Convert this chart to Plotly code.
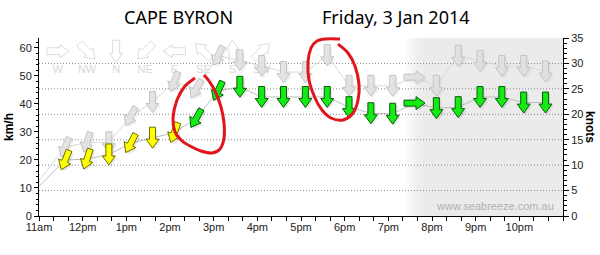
import math
import plotly.graph_objects as go

# ---------------- data ----------------
# time of each reading, decimal hours (first point is before the visible range)
times = [10.6, 11.6, 12.1, 12.6, 13.1, 13.6, 14.1, 14.6, 15.1, 15.6, 16.1, 16.6, 17.1,
         17.6, 18.1, 18.6, 19.1, 19.6, 20.1, 20.6, 21.1, 21.6, 22.1, 22.6]
# average wind speed (knots)
wind_kn = [2.4, 11.0, 11.2, 12.1, 14.3, 15.4, 16.4, 19.2, 24.6, 25.4, 23.4, 23.4, 23.4,
           23.4, 21.4, 20.2, 20.1, 22.2, 21.2, 21.4, 23.4, 23.4, 22.3, 22.3]
# gust speed (knots)
gust_kn = [2.6, 13.5, 14.5, 14.5, 19.6, 22.4, 26.4, 25.0, 31.5, 30.6, 29.5, 28.3, 28.3,
           31.6, 25.6, 25.6, 25.6, 27.3, 25.6, 31.5, 30.5, 29.5, 29.5, 28.4]
# direction the arrow points to (compass degrees), None = no arrow
arrow_dir = [None, 202, 198, 180, 208, 180, 200, 210, 205, 180, 180, 180, 180,
             180, 180, 180, 180, 90, 180, 180, 180, 180, 180, 180]

hour_ticks = [11, 12, 13, 14, 15, 16, 17, 18, 19, 20, 21, 22]
hour_labels = ["11am", "12pm", "1pm", "2pm", "3pm", "4pm", "5pm", "6pm", "7pm", "8pm", "9pm", "10pm"]
kmh_ticks = [0, 10, 20, 30, 40, 50, 60]
knot_ticks = [0, 5, 10, 15, 20, 25, 30, 35]
grid_knots = [5, 10, 15, 20, 25, 30]

compass_labels = ["W", "NW", "N", "NE", "E", "SE", "S", "SW"]
compass_dirs = [90, 135, 180, 225, 270, 315, 0, 45]

night_start = 19.8
yellow_below = 18  # knots: slower winds drawn yellow

title_left = "CAPE BYRON"
title_right = "Friday, 3 Jan 2014"
watermark = "www.seabreeze.com.au"

# hand-drawn red circles (page pixel positions of the pen strokes)
pen_stroke_1 = [(195, 78), (185, 86), (177, 100), (173, 118), (175, 132), (181, 140), (190, 146),
                (201, 151), (212, 153), (220, 149), (224, 138), (224, 123), (221, 107),
                (215, 91), (209, 81), (204, 75)]
pen_stroke_2 = [(340, 39), (326, 39), (317, 41), (311, 48), (308, 62), (309, 80), (315, 98),
                (322, 110), (331, 118), (343, 120), (353, 113), (358, 100), (359, 84),
                (355, 66), (348, 53), (338, 44)]

# ---------------- geometry ----------------
X0, X1 = 11, 23
Y2MAX = 35
KMH_MAX = 63.5
ML, MR, MT, MB = 39, 37, 38, 39
W, H = 600, 255
PW, PH = W - ML - MR, H - MT - MB
PX_X = PW / (X1 - X0)
PX_Y = PH / Y2MAX


def arrow_poly(xc, yc, deg, L=21, HL=9, hw=6.5, sw=3.0, dx=0.0, dy=0.0):
    ux, uy = math.sin(math.radians(deg)), math.cos(math.radians(deg))
    vx, vy = -uy, ux
    loc = [(-L / 2, -sw), (L / 2 - HL, -sw), (L / 2 - HL, -hw), (L / 2, 0),
           (L / 2 - HL, hw), (L / 2 - HL, sw), (-L / 2, sw), (-L / 2, -sw)]
    xs, ys = [], []
    for a, b in loc:
        px = a * ux + b * vx + dx
        py = a * uy + b * vy + dy
        xs.append(xc + px / PX_X)
        ys.append(yc + py / PX_Y)
    return xs, ys


def polys(xs_c, ys_c, dirs, **kw):
    X, Y = [], []
    for x, y, d in zip(xs_c, ys_c, dirs):
        if d is None:
            continue
        a, b = arrow_poly(x, y, d, **kw)
        X += a + [None]
        Y += b + [None]
    return X, Y


def smooth_path(pts):
    # Catmull-Rom through pixel points, expressed in paper coords
    P = [((x - ML) / PW, (H - MB - y) / PH) for x, y in pts]
    d = "M %.5f,%.5f" % P[0]
    for i in range(len(P) - 1):
        p0 = P[i - 1] if i > 0 else P[i]
        p1, p2 = P[i], P[i + 1]
        p3 = P[i + 2] if i + 2 < len(P) else P[i + 1]
        c1 = (p1[0] + (p2[0] - p0[0]) / 6, p1[1] + (p2[1] - p0[1]) / 6)
        c2 = (p2[0] - (p3[0] - p1[0]) / 6, p2[1] - (p3[1] - p1[1]) / 6)
        d += " C %.5f,%.5f %.5f,%.5f %.5f,%.5f" % (c1 + c2 + p2)
    return d


fig = go.Figure()

# empty trace so the km/h axis (left) is drawn
fig.add_trace(go.Scatter(x=[], y=[], yaxis="y2", mode="lines", hoverinfo="skip"))

# compass legend
leg_x = [11.435 + 0.666 * i for i in range(len(compass_labels))]
leg_y = [32.4] * len(compass_labels)
lx, ly = polys(leg_x, leg_y, compass_dirs, L=22, HL=9, hw=6.5, sw=3.5)
fig.add_trace(go.Scatter(x=lx, y=ly, mode="lines", fill="toself",
                         fillcolor="rgba(255,255,255,0.6)",
                         line=dict(color="#dcdcdc", width=1), hoverinfo="skip"))
fig.add_trace(go.Scatter(x=leg_x, y=[28.7] * len(compass_labels), mode="text",
                         text=compass_labels,
                         textfont=dict(family="Liberation Sans, Arial", size=11, color="#d8d8d8"),
                         hoverinfo="skip"))

# gust line and arrows
fig.add_trace(go.Scatter(x=times, y=gust_kn, mode="lines",
                         line=dict(color="#dadada", width=1), hoverinfo="skip"))
sx, sy = polys(times, gust_kn, arrow_dir, dx=2, dy=-2)
fig.add_trace(go.Scatter(x=sx, y=sy, mode="lines", fill="toself",
                         fillcolor="rgba(0,0,0,0.05)", line=dict(width=0), hoverinfo="skip"))
gx, gy = polys(times, gust_kn, arrow_dir)
fig.add_trace(go.Scatter(x=gx, y=gy, mode="lines", fill="toself",
                         fillcolor="rgba(225,225,225,0.85)",
                         line=dict(color="#c4c4c4", width=1), hoverinfo="skip"))

# wind line and arrows
fig.add_trace(go.Scatter(x=times, y=wind_kn, mode="lines",
                         line=dict(color="#bcbcbc", width=1), hoverinfo="skip"))
sx, sy = polys(times, wind_kn, arrow_dir, dx=2, dy=-2)
fig.add_trace(go.Scatter(x=sx, y=sy, mode="lines", fill="toself",
                         fillcolor="rgba(0,0,0,0.08)", line=dict(width=0), hoverinfo="skip"))
ydirs = [d if (d is not None and w < yellow_below) else None for d, w in zip(arrow_dir, wind_kn)]
gdirs = [d if (d is not None and w >= yellow_below) else None for d, w in zip(arrow_dir, wind_kn)]
yx, yy = polys(times, wind_kn, ydirs)
fig.add_trace(go.Scatter(x=yx, y=yy, mode="lines", fill="toself",
                         fillcolor="#ffff00", line=dict(color="#6b6b00", width=1), hoverinfo="skip"))
gx2, gy2 = polys(times, wind_kn, gdirs)
fig.add_trace(go.Scatter(x=gx2, y=gy2, mode="lines", fill="toself",
                         fillcolor="#14ea14", line=dict(color="#0a5a0a", width=1), hoverinfo="skip"))

# shapes: night shading with soft edge, then dotted grid
shapes = []
for k in range(6):
    shapes.append(dict(type="rect", xref="x", yref="paper", x0=night_start - 0.4 + 0.08 * k,
                       x1=X1, y0=0, y1=1, fillcolor="#e6e6e6", opacity=0.18,
                       line=dict(width=0), layer="below"))
for g in grid_knots:
    shapes.append(dict(type="line", xref="paper", yref="y", x0=0, x1=1, y0=g, y1=g,
                       line=dict(color="#8a8a8a", width=1, dash="1px,2px"), layer="below"))
for stroke in (pen_stroke_1, pen_stroke_2):
    shapes.append(dict(type="path", xref="paper", yref="paper", path=smooth_path(stroke),
                       line=dict(color="#e0161c", width=3), layer="above"))

tickfont = dict(family="Liberation Sans, Arial", size=11, color="#222")
fig.update_layout(
    width=W, height=H, margin=dict(l=ML, r=MR, t=MT, b=MB),
    paper_bgcolor="white", plot_bgcolor="white", showlegend=False,
    shapes=shapes,
    xaxis=dict(range=[X0, X1], tickvals=hour_ticks, ticktext=hour_labels, showgrid=False,
               zeroline=False, showline=True, linecolor="black", linewidth=1,
               ticks="outside", ticklen=4, tickcolor="black", tickfont=tickfont,
               ticklabelstandoff=-3,
               minor=dict(dtick=1 / 3, tick0=11, ticks="outside", ticklen=4, tickcolor="black")),
    yaxis=dict(range=[0, Y2MAX], tickvals=knot_ticks, side="right",
               showgrid=False, zeroline=False, showline=True, linecolor="black", linewidth=1,
               ticks="outside", ticklen=5, tickcolor="black", tickfont=tickfont,
               minor=dict(dtick=1, ticks="outside", ticklen=3, tickcolor="black")),
    yaxis2=dict(range=[0, KMH_MAX], tickvals=kmh_ticks, overlaying="y", side="left",
                showgrid=False, zeroline=False, anchor="x",
                showline=True, linecolor="black", linewidth=1, ticks="outside", ticklen=4,
                tickcolor="black", tickfont=tickfont,
                minor=dict(dtick=2, ticks="outside", ticklen=2, tickcolor="black")),
    annotations=[
        dict(text=title_left, xref="paper", yref="paper", x=(178 - ML) / PW,
             y=(H - MB - 17) / PH, showarrow=False, xanchor="center", yanchor="middle",
             font=dict(family="Noto Sans", size=18, color="black")),
        dict(text=title_right, xref="paper", yref="paper", x=(396 - ML) / PW,
             y=(H - MB - 17) / PH, showarrow=False, xanchor="center", yanchor="middle",
             font=dict(family="Noto Sans", size=18, color="black")),
        dict(text="<b>km/h</b>", xref="paper", yref="paper", x=(9 - ML) / PW, y=0.5,
             textangle=-90, showarrow=False, xanchor="center", yanchor="middle",
             font=dict(family="Liberation Sans, Arial", size=12, color="black")),
        dict(text="<b>knots</b>", xref="paper", yref="paper", x=(590 - ML) / PW, y=0.5,
             textangle=90, showarrow=False, xanchor="center", yanchor="middle",
             font=dict(family="Liberation Sans, Arial", size=12, color="black")),
        dict(text=watermark, xref="paper", yref="paper", x=(556 - ML) / PW,
             y=(H - MB - 205.5) / PH, showarrow=False, xanchor="right",
             yanchor="middle",
             font=dict(family="Liberation Sans, Arial", size=11, color="#b0b0b0")),
    ],
)

fig.write_html("out.html")
